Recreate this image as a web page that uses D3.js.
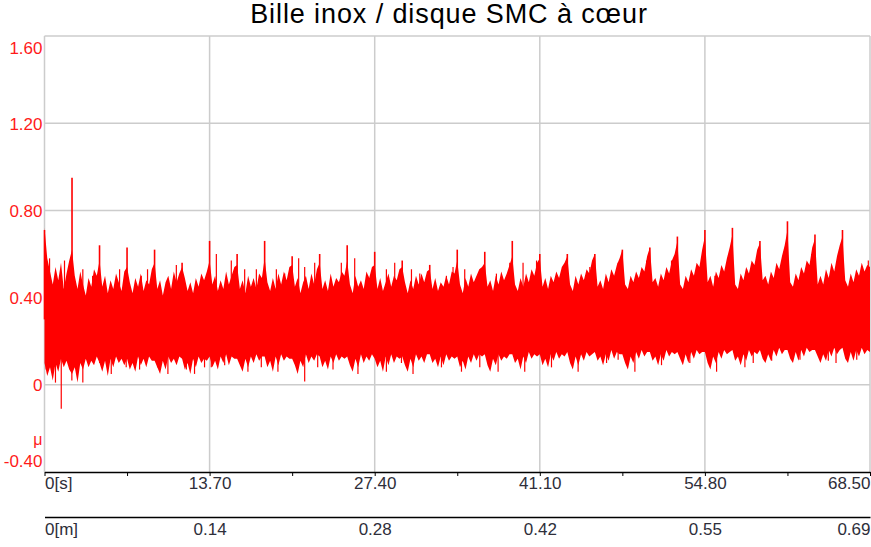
<!DOCTYPE html>
<html>
<head>
<meta charset="utf-8">
<script src="https://cdn.jsdelivr.net/npm/d3@7"></script>
<style>
  body { margin: 0; background: #fff; }
  text { font-family: "Liberation Sans", Arial, sans-serif; }
</style>
</head>
<body>
<script>
// axes
const timeTicks = [0, 13.7, 27.4, 41.1, 54.8, 68.5];
const timeLabels = ["0[s]", "13.70", "27.40", "41.10", "54.80", "68.50"];
const minorTicks = [6.85, 20.55, 34.25, 47.95, 61.65];
const distLabels = ["0[m]", "0.14", "0.28", "0.42", "0.55", "0.69"];
const muTicks = [-0.4, 0, 0.4, 0.8, 1.2, 1.6];

// upper / lower edge of the friction band, 10 samples per revolution (30 revolutions)
const bandHigh = [
  0.72,0.58,0.52,0.46,0.54,0.48,0.56,0.44,0.51,0.57,
  0.62,0.50,0.44,0.52,0.46,0.41,0.49,0.45,0.53,0.50,
  0.57,0.45,0.50,0.42,0.48,0.44,0.51,0.47,0.43,0.52,
  0.54,0.47,0.42,0.49,0.45,0.51,0.43,0.48,0.46,0.53,
  0.56,0.44,0.48,0.41,0.47,0.50,0.44,0.52,0.47,0.51,
  0.54,0.49,0.43,0.47,0.42,0.49,0.45,0.51,0.48,0.52,
  0.57,0.46,0.50,0.43,0.48,0.44,0.52,0.46,0.50,0.54,
  0.55,0.44,0.48,0.42,0.50,0.45,0.49,0.44,0.51,0.49,
  0.58,0.47,0.43,0.49,0.44,0.51,0.46,0.52,0.48,0.54,
  0.55,0.45,0.49,0.42,0.47,0.50,0.44,0.51,0.46,0.53,
  0.56,0.44,0.48,0.43,0.51,0.45,0.49,0.47,0.52,0.50,
  0.57,0.46,0.42,0.50,0.45,0.48,0.44,0.52,0.49,0.54,
  0.55,0.44,0.49,0.43,0.47,0.51,0.45,0.50,0.48,0.53,
  0.54,0.47,0.42,0.48,0.44,0.50,0.46,0.51,0.47,0.52,
  0.53,0.44,0.49,0.43,0.47,0.45,0.50,0.46,0.52,0.51,
  0.57,0.46,0.42,0.49,0.45,0.51,0.47,0.50,0.53,0.54,
  0.56,0.45,0.48,0.43,0.50,0.46,0.52,0.48,0.51,0.55,
  0.59,0.46,0.43,0.49,0.45,0.51,0.47,0.53,0.50,0.56,
  0.58,0.45,0.49,0.44,0.50,0.47,0.52,0.49,0.54,0.56,
  0.59,0.46,0.43,0.50,0.46,0.51,0.48,0.53,0.51,0.57,
  0.60,0.45,0.48,0.44,0.51,0.47,0.53,0.50,0.55,0.58,
  0.62,0.46,0.44,0.50,0.47,0.52,0.49,0.54,0.52,0.59,
  0.63,0.47,0.49,0.45,0.51,0.48,0.54,0.51,0.57,0.60,
  0.66,0.46,0.44,0.50,0.47,0.53,0.50,0.56,0.54,0.62,
  0.68,0.47,0.50,0.45,0.52,0.49,0.55,0.52,0.58,0.63,
  0.69,0.46,0.44,0.51,0.48,0.54,0.51,0.57,0.55,0.62,
  0.65,0.48,0.50,0.46,0.52,0.49,0.56,0.53,0.59,0.64,
  0.71,0.47,0.45,0.51,0.48,0.54,0.51,0.57,0.55,0.63,
  0.67,0.46,0.50,0.46,0.53,0.49,0.56,0.52,0.59,0.64,
  0.68,0.48,0.45,0.51,0.47,0.53,0.50,0.56,0.52,0.55,
  0.54
];
const bandLow = [
  0.10,0.04,0.08,0.02,0.10,0.06,0.12,0.08,0.11,0.07,
  0.05,0.08,0.01,0.10,0.07,0.12,0.08,0.11,0.09,0.13,
  0.10,0.06,0.11,0.04,0.12,0.08,0.13,0.10,0.12,0.09,
  0.12,0.07,0.10,0.06,0.13,0.09,0.12,0.08,0.13,0.11,
  0.11,0.08,0.05,0.11,0.07,0.13,0.10,0.12,0.09,0.13,
  0.12,0.07,0.10,0.05,0.12,0.08,0.13,0.10,0.12,0.11,
  0.13,0.08,0.11,0.07,0.13,0.10,0.14,0.09,0.13,0.12,
  0.12,0.09,0.06,0.12,0.08,0.13,0.10,0.14,0.11,0.13,
  0.13,0.08,0.11,0.06,0.13,0.09,0.14,0.11,0.13,0.12,
  0.12,0.09,0.05,0.11,0.08,0.14,0.10,0.13,0.11,0.14,
  0.13,0.08,0.11,0.07,0.13,0.10,0.14,0.11,0.13,0.12,
  0.13,0.09,0.06,0.12,0.08,0.14,0.10,0.13,0.11,0.14,
  0.12,0.08,0.11,0.06,0.13,0.09,0.14,0.10,0.13,0.12,
  0.13,0.09,0.06,0.12,0.08,0.14,0.11,0.13,0.10,0.14,
  0.14,0.10,0.12,0.08,0.13,0.09,0.14,0.11,0.13,0.12,
  0.13,0.08,0.11,0.07,0.13,0.10,0.14,0.11,0.14,0.13,
  0.14,0.09,0.06,0.12,0.09,0.14,0.11,0.13,0.12,0.14,
  0.14,0.10,0.12,0.07,0.13,0.10,0.15,0.12,0.14,0.13,
  0.14,0.09,0.12,0.08,0.14,0.11,0.15,0.12,0.14,0.13,
  0.15,0.10,0.07,0.13,0.09,0.14,0.11,0.15,0.13,0.14,
  0.15,0.11,0.13,0.09,0.14,0.11,0.16,0.12,0.15,0.14,
  0.14,0.10,0.07,0.13,0.10,0.15,0.12,0.16,0.13,0.15,
  0.15,0.11,0.13,0.09,0.14,0.11,0.16,0.13,0.15,0.14,
  0.15,0.12,0.09,0.14,0.10,0.15,0.12,0.16,0.14,0.15,
  0.15,0.10,0.07,0.13,0.10,0.15,0.12,0.16,0.14,0.15,
  0.16,0.11,0.13,0.09,0.14,0.11,0.16,0.13,0.15,0.14,
  0.16,0.12,0.10,0.14,0.11,0.16,0.13,0.17,0.14,0.16,
  0.16,0.12,0.10,0.15,0.11,0.16,0.13,0.17,0.15,0.16,
  0.16,0.13,0.10,0.14,0.11,0.16,0.13,0.17,0.14,0.16,
  0.17,0.12,0.10,0.15,0.11,0.16,0.13,0.17,0.14,0.16,
  0.15
];

// highest spike of each revolution
const revPeaks = [0.71,0.95,0.64,0.63,0.62,0.56,0.66,0.60,0.66,0.59,0.60,0.64,0.61,0.57,0.55,
  0.62,0.61,0.66,0.60,0.60,0.60,0.62,0.63,0.68,0.71,0.72,0.66,0.75,0.69,0.71,0.54];

// other spikes [time s, mu]
const upSpikes = [
  [0.42,0.58],[1.66,0.57],[3.18,0.53],[3.99,0.50],[6.23,0.53],[8.03,0.50],[8.55,0.53],
  [10.94,0.55],[14.26,0.60],[15.50,0.57],[16.61,0.53],[17.58,0.53],[19.24,0.53],[19.93,0.51],
  [21.09,0.58],[21.59,0.54],[22.42,0.56],[24.63,0.56],[25.74,0.58],[26.82,0.50],[28.37,0.53],
  [29.06,0.56],[30.45,0.53],[31.14,0.51],[33.35,0.50],[33.90,0.54],[34.87,0.53],[36.12,0.51],
  [37.50,0.51],[38.61,0.56],[39.71,0.56],[40.83,0.57],[42.49,0.48],[43.03,0.53],[45.25,0.54],
  [46.64,0.49],[47.60,0.56],[49.54,0.50],[49.96,0.57],[52.03,0.57],[53.70,0.49],[54.53,0.57],
  [55.63,0.50],[56.88,0.56],[58.26,0.53],[59.23,0.57],[60.89,0.50],[61.44,0.57],[62.83,0.51],
  [63.66,0.60],[65.73,0.53],[66.15,0.59],[67.40,0.50],[68.36,0.57]
];
const downSpikes = [
  [0.14,0.07],[0.91,0.01],[1.39,-0.11],[2.27,0.02],[3.18,0.01],[4.57,0.10],[5.54,0.05],
  [6.78,0.08],[7.89,0.07],[9.38,0.08],[10.24,0.05],[11.77,0.07],[12.45,0.05],[13.28,0.08],
  [13.84,0.08],[14.95,0.09],[16.88,0.06],[17.99,0.08],[19.37,0.06],[21.59,0.015],[22.67,0.08],
  [23.94,0.07],[26.01,0.05],[28.37,0.06],[29.62,0.10],[30.58,0.05],[32.94,0.08],[34.60,0.06],
  [36.12,0.08],[37.64,0.06],[39.85,0.06],[42.07,0.08],[44.28,0.06],[46.64,0.10],[47.60,0.115],
  [48.99,0.06],[51.20,0.09],[53.55,0.10],[55.77,0.06],[58.12,0.08],[58.81,0.10],[60.34,0.11],
  [62.69,0.115],[65.04,0.11],[65.68,0.10],[67.40,0.115]
];

const width = 871, height = 547;
const plotLeft = 44.5, plotRight = 870, plotTop = 36, plotBottom = 472, axis2Y = 517;
const dt = 68.5 / 300, period = 68.5 / 30;

const svg = d3.select("body").append("svg")
  .attr("width", width)
  .attr("height", height);

const x = d3.scaleLinear().domain([0, 68.5]).range([plotLeft, plotRight]);
const y = d3.scaleLinear().domain([-0.4, 1.6]).range([plotBottom, plotTop]);

// title
svg.append("text")
  .attr("x", 449)
  .attr("y", 23)
  .attr("text-anchor", "middle")
  .style("font-size", "27px")
  .style("letter-spacing", "0.9px")
  .attr("fill", "#000")
  .text("Bille inox / disque SMC à cœur");

// grid
const grid = svg.append("g").attr("stroke", "#cccccc").attr("stroke-width", 1.5);
grid.selectAll(".gx").data(timeTicks).enter().append("line")
  .attr("x1", d => x(d)).attr("x2", d => x(d))
  .attr("y1", plotTop).attr("y2", plotBottom);
grid.selectAll(".gy").data(muTicks.slice(1)).enter().append("line")
  .attr("x1", plotLeft).attr("x2", plotRight)
  .attr("y1", d => y(d)).attr("y2", d => y(d));

// signal
const sig = svg.append("g");
const area = d3.area()
  .x((d, i) => x(i * dt))
  .y0((d, i) => y(bandLow[i]))
  .y1(d => y(d));
sig.append("path")
  .datum(bandHigh)
  .attr("d", area)
  .attr("fill", "#ff0000");

sig.selectAll(".up").data(upSpikes).enter().append("line")
  .attr("x1", d => x(d[0])).attr("x2", d => x(d[0]))
  .attr("y1", y(0.3)).attr("y2", d => y(d[1]))
  .attr("stroke", "#ff0000").attr("stroke-width", 1.2);

sig.selectAll(".down").data(downSpikes).enter().append("line")
  .attr("x1", d => x(d[0])).attr("x2", d => x(d[0]))
  .attr("y1", y(0.25)).attr("y2", d => y(d[1]))
  .attr("stroke", "#ff0000").attr("stroke-width", 1.2);

sig.selectAll(".peak").data(revPeaks).enter().append("line")
  .attr("x1", (d, i) => x(Math.min(i * period, 68.4))).attr("x2", (d, i) => x(Math.min(i * period, 68.4)))
  .attr("y1", y(0.3)).attr("y2", d => y(d))
  .attr("stroke", "#ff0000").attr("stroke-width", 1.6);

// y axis labels
const yAxis = svg.append("g")
  .attr("transform", `translate(${plotLeft},0)`)
  .call(d3.axisLeft(y).tickValues(muTicks).tickSize(0).tickPadding(2)
    .tickFormat(d => d === 0 ? "0" : d.toFixed(2)));
yAxis.select(".domain").remove();
yAxis.selectAll("text")
  .attr("fill", "#ff1a1a")
  .style("font-size", "17px")
  .attr("dy", d => d === 1.6 ? "1.0em" : d === -0.4 ? "-0.3em" : "0.35em");
svg.append("text")
  .attr("x", 42.5).attr("y", 445)
  .attr("text-anchor", "end")
  .attr("fill", "#ff1a1a")
  .style("font-size", "16px")
  .text("μ");

// time axis
const xAxis = svg.append("g")
  .attr("transform", `translate(0,${plotBottom})`)
  .call(d3.axisBottom(x).tickValues(minorTicks.concat(timeTicks)).tickSize(4).tickSizeOuter(0)
    .tickFormat(d => { const i = timeTicks.indexOf(d); return i < 0 ? "" : timeLabels[i]; }));
xAxis.select(".domain").attr("stroke", "#000").attr("stroke-width", 1.5);
xAxis.selectAll("line").attr("stroke", "#000");
xAxis.selectAll("text")
  .attr("fill", "#2e2e3a")
  .attr("y", 5)
  .style("font-size", "17px")
  .attr("text-anchor", d => d === 0 ? "start" : d === 68.5 ? "end" : "middle");

// distance axis
const xAxis2 = svg.append("g")
  .attr("transform", `translate(0,${axis2Y})`)
  .call(d3.axisBottom(x).tickValues(timeTicks).tickSize(0).tickSizeOuter(0)
    .tickFormat((d, i) => distLabels[i]));
xAxis2.select(".domain").attr("stroke", "#000").attr("stroke-width", 1.5);
xAxis2.selectAll("text")
  .attr("fill", "#2e2e3a")
  .attr("y", 6)
  .style("font-size", "17px")
  .attr("text-anchor", d => d === 0 ? "start" : d === 68.5 ? "end" : "middle");
</script>
</body>
</html>
